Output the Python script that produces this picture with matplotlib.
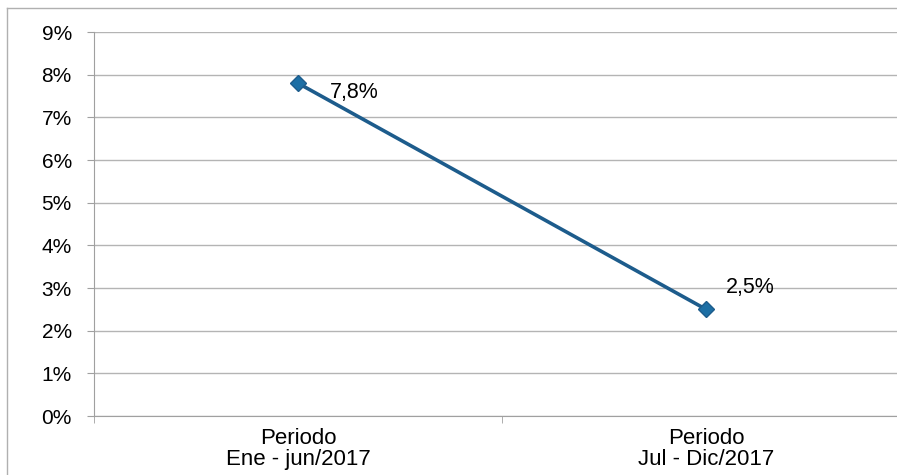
import matplotlib.pyplot as plt
from matplotlib.lines import Line2D
from matplotlib.ticker import FuncFormatter

# data
periodos = ['Periodo\nEne - jun/2017', 'Periodo\nJul - Dic/2017']
valores = [7.8, 2.5]
etiquetas = ['7,8%', '2,5%']

plt.rcParams['font.family'] = ['Liberation Sans', 'DejaVu Sans']

fig = plt.figure(figsize=(8.97, 4.75), dpi=100)
# axes run past the right edge, like the cropped original
ax = fig.add_axes([94 / 897, 1 - 416 / 475, 816 / 897, 384 / 475])

x = list(range(len(periodos)))
ax.plot(x, valores, color='#1d5c8c', lw=2.6, marker='D', ms=8.5,
        markerfacecolor='#1d6fa5', markeredgecolor='#1d5c8c', zorder=3)

ax.annotate(etiquetas[0], (x[0], valores[0]), xytext=(23, -7),
            textcoords='offset points', fontsize=15.5, va='center', ha='left')
ax.annotate(etiquetas[1], (x[1], valores[1]), xytext=(14, 16),
            textcoords='offset points', fontsize=15.5, va='center', ha='left')

ax.set_xlim(-0.5, 1.5)
ax.set_ylim(0, 9)
ax.set_yticks(range(0, 10))
ax.yaxis.set_major_formatter(FuncFormatter(lambda v, p: '%d%%' % v))
ax.set_xticks(x)
ax.set_xticklabels(periodos, linespacing=0.95)
ax.set_xticks([-0.5, 0.5], minor=True)

ax.grid(axis='y', color='#b4b4b4', lw=1)
ax.set_axisbelow(True)
for s in ['top', 'right']:
    ax.spines[s].set_visible(False)
for s in ['left', 'bottom']:
    ax.spines[s].set_color('#a0a0a0')

ax.tick_params(axis='y', length=5, color='#a0a0a0', pad=11, labelsize=15)
ax.tick_params(axis='x', which='major', length=0, pad=9, labelsize=16)
ax.tick_params(axis='x', which='minor', length=5, color='#a0a0a0')

# outer chart border, left and top only (cropped elsewhere)
bx, by = 6.5 / 897, 1 - 7.5 / 475
fig.lines.append(Line2D([bx, bx], [0, by], transform=fig.transFigure,
                        color='#b0b0b0', lw=1))
fig.lines.append(Line2D([bx, 1], [by, by], transform=fig.transFigure,
                        color='#b0b0b0', lw=1))

fig.savefig('out.png', dpi=100)
